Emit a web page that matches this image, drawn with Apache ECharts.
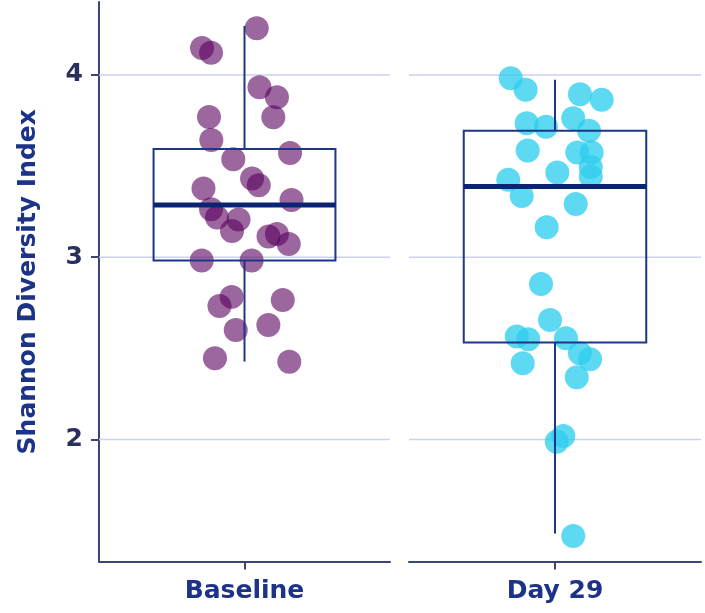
<!DOCTYPE html>
<html>
<head>
<meta charset="utf-8">
<script src="https://cdn.jsdelivr.net/npm/echarts@6/dist/echarts.min.js"></script>
<style>
  html, body { margin: 0; padding: 0; background: #ffffff; }
  #chart { width: 705px; height: 613px; }
</style>
</head>
<body>
<div id="chart"></div>
<script>
// ---------------- data ----------------
const categories = ['Baseline', 'Day 29'];
const yTicks = [2, 3, 4];
const yTitle = 'Shannon Diversity Index';

// box statistics: [min whisker, Q1, median, Q3, max whisker]
const baselineBox = [2.427, 2.981, 3.286, 3.594, 4.269];
const day29Box = [1.484, 2.531, 3.387, 3.693, 3.973];

// individual observations and their horizontal jitter (axis units, -1..1)
const baselineValues = [4.147, 4.121, 4.256, 3.932, 3.877, 3.768, 3.769, 3.643, 3.572, 3.537,
  3.432, 3.394, 3.377, 3.314, 3.263, 3.218, 3.207, 3.144, 3.113, 3.127,
  3.072, 2.981, 2.981, 2.782, 2.732, 2.765, 2.600, 2.628, 2.445, 2.426];
const baselineJitter = [-0.292, -0.230, 0.084, 0.103, 0.223, 0.198, -0.244, -0.228, 0.313, -0.077,
  0.052, 0.098, -0.282, 0.323, -0.230, -0.189, -0.041, -0.086, 0.165, 0.223,
  0.304, -0.294, 0.049, -0.088, -0.172, 0.263, -0.060, 0.164, -0.203, 0.308];

const day29Values = [3.982, 3.918, 3.894, 3.863, 3.735, 3.716, 3.762, 3.694, 3.585, 3.574,
  3.574, 3.464, 3.495, 3.442, 3.424, 3.336, 3.292, 3.164, 2.853, 2.655,
  2.564, 2.549, 2.555, 2.473, 2.440, 2.418, 2.341, 2.019, 1.987, 1.470];
const day29Jitter = [-0.303, -0.201, 0.171, 0.320, -0.194, -0.062, 0.125, 0.233, -0.187, 0.153,
  0.251, 0.016, 0.245, 0.245, -0.320, -0.228, 0.142, -0.057, -0.096, -0.034,
  -0.262, -0.183, 0.075, 0.171, 0.240, -0.221, 0.149, 0.057, 0.012, 0.125];

// ---------------- styles ----------------
const FONT = 'DejaVu Sans';
const AXIS_COLOR = '#3f4476';
const LABEL_COLOR = '#1d3387';
const TICK_LABEL_COLOR = '#2c2f5e';
const GRID_COLOR = '#ccd1ec';
const BOX_COLOR = '#1d3689';
const MEDIAN_COLOR = '#0a2473';
const BOX_HALF = 0.625;
const Y_MIN = 1.33, Y_MAX = 4.40;

const chart = echarts.init(document.getElementById('chart'), null, { renderer: 'canvas' });

function zip(xs, ys) { return ys.map((v, i) => [xs[i], v]); }

function gridLineSeries(xi, yi) {
  return {
    type: 'custom', xAxisIndex: xi, yAxisIndex: yi, z: 1, silent: true,
    data: yTicks.map(v => [v]),
    encode: { y: 0 },
    renderItem: function (params, api) {
      const v = api.value(0);
      const a = api.coord([-1, v]);
      const b = api.coord([1, v]);
      return { type: 'line', shape: { x1: a[0], y1: a[1], x2: b[0], y2: b[1] },
        style: { stroke: GRID_COLOR, lineWidth: 1.5 } };
    }
  };
}

function boxSeries(xi, yi, stats) {
  return {
    type: 'custom', xAxisIndex: xi, yAxisIndex: yi, z: 5, silent: true,
    data: [[0].concat(stats)],
    encode: { x: 0, y: [1, 2, 3, 4, 5] },
    renderItem: function (params, api) {
      const x = api.value(0);
      const mn = api.value(1), q1 = api.value(2), md = api.value(3), q3 = api.value(4), mx = api.value(5);
      const pTop = api.coord([x, mx]);
      const pQ3 = api.coord([x, q3]);
      const pQ1 = api.coord([x, q1]);
      const pBot = api.coord([x, mn]);
      const l3 = api.coord([x - BOX_HALF, q3]);
      const r1 = api.coord([x + BOX_HALF, q1]);
      const ml = api.coord([x - BOX_HALF, md]);
      const mr = api.coord([x + BOX_HALF, md]);
      return {
        type: 'group',
        children: [
          { type: 'line', shape: { x1: pTop[0], y1: pTop[1], x2: pQ3[0], y2: pQ3[1] },
            style: { stroke: BOX_COLOR, lineWidth: 2 } },
          { type: 'line', shape: { x1: pQ1[0], y1: pQ1[1], x2: pBot[0], y2: pBot[1] },
            style: { stroke: BOX_COLOR, lineWidth: 2 } },
          { type: 'rect', shape: { x: l3[0], y: l3[1], width: r1[0] - l3[0], height: r1[1] - l3[1] },
            style: { fill: 'none', stroke: BOX_COLOR, lineWidth: 2 } },
          { type: 'line', shape: { x1: ml[0], y1: ml[1], x2: mr[0], y2: mr[1] },
            style: { stroke: MEDIAN_COLOR, lineWidth: 5 } }
        ]
      };
    }
  };
}

function catAxis(gi, name) {
  return {
    type: 'category', gridIndex: gi, data: [name], position: 'bottom',
    axisLine: { show: true, onZero: false, lineStyle: { color: AXIS_COLOR, width: 2 } },
    axisTick: { show: true, alignWithLabel: true, length: 8, lineStyle: { color: AXIS_COLOR, width: 2 } },
    axisLabel: { show: true, color: LABEL_COLOR, fontSize: 25, fontWeight: 'bold', fontFamily: FONT, margin: 17 },
    splitLine: { show: false }
  };
}

function jitterAxis(gi) {
  return { type: 'value', gridIndex: gi, min: -1, max: 1, show: false };
}

const option = {
  backgroundColor: '#ffffff',
  animation: false,
  grid: [
    { left: 99, right: 315, top: 2, bottom: 51.5 },
    { left: 409, right: 4, top: 2, bottom: 51.5 }
  ],
  xAxis: [
    catAxis(0, categories[0]),
    jitterAxis(0),
    catAxis(1, categories[1]),
    jitterAxis(1)
  ],
  yAxis: [
    {
      type: 'value', gridIndex: 0, min: Y_MIN, max: Y_MAX,
      name: yTitle, nameLocation: 'middle', nameGap: 58,
      nameTextStyle: { color: LABEL_COLOR, fontSize: 25, fontWeight: 'bold', fontFamily: FONT },
      axisLine: { show: true, onZero: false, lineStyle: { color: AXIS_COLOR, width: 2 } },
      axisTick: { show: true, length: 8, customValues: yTicks, lineStyle: { color: AXIS_COLOR, width: 2 } },
      axisLabel: { show: true, customValues: yTicks, color: TICK_LABEL_COLOR, fontSize: 25, fontWeight: 'bold', fontFamily: FONT, margin: 16 },
      splitLine: { show: false }
    },
    {
      type: 'value', gridIndex: 1, min: Y_MIN, max: Y_MAX,
      axisLine: { show: false, onZero: false }, axisTick: { show: false }, axisLabel: { show: false }, splitLine: { show: false }
    }
  ],
  series: [
    gridLineSeries(1, 0),
    gridLineSeries(3, 1),
    {
      name: categories[0], type: 'scatter', xAxisIndex: 1, yAxisIndex: 0, z: 3,
      data: zip(baselineJitter, baselineValues),
      symbolSize: 24,
      itemStyle: { color: 'rgb(90,0,95)', opacity: 0.6 }
    },
    {
      name: categories[1], type: 'scatter', xAxisIndex: 3, yAxisIndex: 1, z: 3,
      data: zip(day29Jitter, day29Values),
      symbolSize: 24,
      itemStyle: { color: 'rgb(45,205,238)', opacity: 0.77 }
    },
    boxSeries(1, 0, baselineBox),
    boxSeries(3, 1, day29Box)
  ]
};

chart.setOption(option);
</script>
</body>
</html>
